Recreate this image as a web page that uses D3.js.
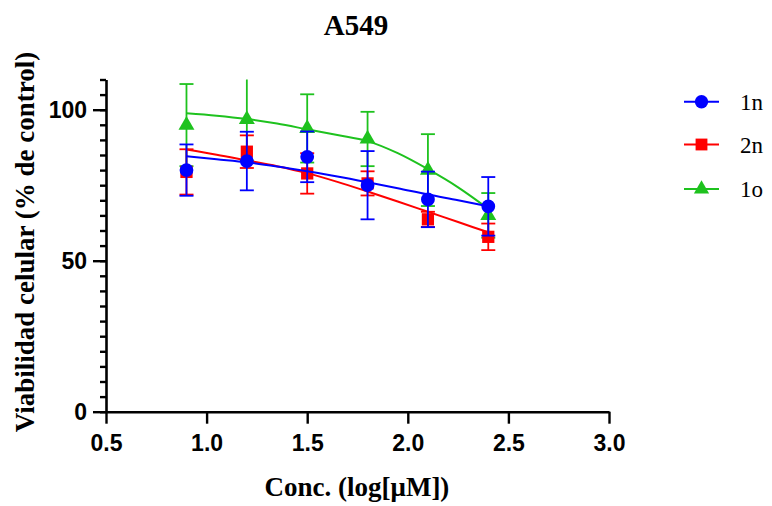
<!DOCTYPE html>
<html>
<head>
<meta charset="utf-8">
<script src="https://cdn.jsdelivr.net/npm/d3@7"></script>
<style>
  html, body { margin: 0; padding: 0; background: #fff; }
  svg { display: block; }
</style>
</head>
<body>
<svg id="chart" width="772" height="506"></svg>
<script>
// Concentrations (log µM) at which viability was measured
const concentrations = [0.9, 1.2, 1.5, 1.8, 2.1, 2.4];

// Mean viability (% of control) and standard deviation per compound
const viability1n = [80.0, 83.0, 84.4, 75.0, 70.3, 68.0];
const sd1n        = [8.5, 9.7, 8.4, 11.3, 9.2, 9.7];
const viability2n = [79.4, 86.1, 78.9, 75.6, 63.7, 57.9];
const sd2n        = [7.5, 5.4, 6.7, 4.0, 2.5, 4.4];
const viability1o = [94.9, 96.8, 93.8, 90.3, 80.0, 65.0];
const sd1o        = [13.6, 13.6, 11.3, 9.0, 11.9, 7.4];

// Fitted dose-response curves, sampled along the concentration range
const fitConc  = [0.9, 1.05, 1.2, 1.35, 1.5, 1.65, 1.8, 1.95, 2.1, 2.25, 2.4];
const fit1n    = [84.6, 83.6, 82.6, 81.2, 79.6, 77.9, 76.0, 74.0, 71.9, 70.0, 68.0];
const fit2n    = [86.8, 85.1, 83.2, 81.3, 79.0, 76.1, 72.9, 69.6, 66.2, 62.8, 59.4];
const fit1o    = [98.8, 98.0, 96.9, 95.4, 93.5, 91.6, 89.6, 85.6, 80.3, 74.3, 67.2];

// Axis ticks
const xTicks = [0.5, 1.0, 1.5, 2.0, 2.5, 3.0];
const yTicks = [0, 50, 100];
const yMinorTicks = [0, 5, 10, 15, 20, 25, 30, 35, 40, 45, 50, 55, 60, 65, 70, 75, 80, 85, 90, 95, 100, 105, 110];

const seriesNames = ["1n", "2n", "1o"];

const series = [
  { name: seriesNames[0], mean: viability1n, sd: sd1n, fit: fit1n, color: "#0000ff", shape: d3.symbolCircle },
  { name: seriesNames[1], mean: viability2n, sd: sd2n, fit: fit2n, color: "#ff0000", shape: d3.symbolSquare },
  { name: seriesNames[2], mean: viability1o, sd: sd1o, fit: fit1o, color: "#1ec21e", shape: d3.symbolTriangle }
];

const svg = d3.select("#chart");

const x = d3.scaleLinear().domain([0.5, 3.0]).range([106, 609]);
const y = d3.scaleLinear().domain([0, 110]).range([411.7, 79.5]);

const serif = "'Liberation Serif', 'Times New Roman', serif";
const sans = "'Liberation Sans', Arial, sans-serif";

// Title
svg.append("text")
  .attr("x", 356).attr("y", 35)
  .attr("text-anchor", "middle")
  .style("font-family", serif).style("font-weight", "bold").style("font-size", "29px")
  .text("A549");

// Y minor ticks
svg.append("g")
  .attr("transform", `translate(${x.range()[0]},0)`)
  .call(d3.axisLeft(y).tickValues(yMinorTicks).tickSize(6).tickSizeOuter(0).tickFormat(""))
  .call(g => g.select(".domain").remove())
  .call(g => g.selectAll("line").attr("stroke", "#000").attr("stroke-width", 2.4));

// Y axis
svg.append("g")
  .attr("transform", `translate(${x.range()[0]},0)`)
  .call(d3.axisLeft(y).tickValues(yTicks).tickSize(13).tickSizeOuter(0).tickPadding(6).tickFormat(d3.format("d")))
  .call(g => g.select(".domain").attr("stroke", "#000").attr("stroke-width", 2.6))
  .call(g => g.selectAll("line").attr("stroke", "#000").attr("stroke-width", 2.4))
  .call(g => g.selectAll("text")
    .style("font-family", sans).style("font-weight", "bold").style("font-size", "23px").attr("fill", "#000"));

// X axis
svg.append("g")
  .attr("transform", `translate(0,${y(0)})`)
  .call(d3.axisBottom(x).tickValues(xTicks).tickSize(12).tickSizeOuter(0).tickPadding(11).tickFormat(d3.format(".1f")))
  .call(g => g.select(".domain").attr("stroke", "#000").attr("stroke-width", 2.6))
  .call(g => g.selectAll("line").attr("stroke", "#000").attr("stroke-width", 2.4))
  .call(g => g.selectAll("text")
    .style("font-family", sans).style("font-weight", "bold").style("font-size", "23px").attr("fill", "#000"));

// Axis titles
svg.append("text")
  .attr("x", 357).attr("y", 496)
  .attr("text-anchor", "middle")
  .style("font-family", serif).style("font-weight", "bold").style("font-size", "27px")
  .text("Conc. (log[μM])");

svg.append("text")
  .attr("transform", `translate(34,${(47 + 437) / 2}) rotate(-90)`)
  .attr("text-anchor", "middle")
  .style("font-family", serif).style("font-weight", "bold").style("font-size", "27px")
  .text("Viabilidad celular (% de control)");

const line = d3.line()
  .x(d => x(d[0]))
  .y(d => y(d[1]))
  .curve(d3.curveMonotoneX);

const plot = svg.append("g");
const capHalf = 7;

// Draw last series first so 1n sits on top
series.slice().reverse().forEach(s => {
  const g = plot.append("g");
  const pts = concentrations.map((c, i) => ({ c, m: s.mean[i], sd: s.sd[i] }));

  // Error bars
  const eb = g.append("g").attr("stroke", s.color).attr("stroke-width", 1.8).attr("fill", "none");
  eb.selectAll("line.v").data(pts).join("line")
    .attr("x1", d => x(d.c)).attr("x2", d => x(d.c))
    .attr("y1", d => y(Math.min(110, d.m + d.sd))).attr("y2", d => y(d.m - d.sd));
  eb.selectAll("line.top").data(pts.filter(d => d.m + d.sd <= 110)).join("line")
    .attr("x1", d => x(d.c) - capHalf).attr("x2", d => x(d.c) + capHalf)
    .attr("y1", d => y(d.m + d.sd)).attr("y2", d => y(d.m + d.sd));
  eb.selectAll("line.bot").data(pts).join("line")
    .attr("x1", d => x(d.c) - capHalf).attr("x2", d => x(d.c) + capHalf)
    .attr("y1", d => y(d.m - d.sd)).attr("y2", d => y(d.m - d.sd));

  // Fitted curve
  g.append("path")
    .datum(fitConc.map((c, i) => [c, s.fit[i]]))
    .attr("d", line)
    .attr("fill", "none").attr("stroke", s.color).attr("stroke-width", 2);

  // Markers
  g.selectAll("path.mk").data(pts).join("path")
    .attr("transform", d => `translate(${x(d.c)},${y(d.m)})`)
    .attr("d", d3.symbol().type(s.shape).size(s.shape === d3.symbolTriangle ? 110 : 150))
    .attr("fill", s.color);
});

// Legend
const legend = svg.append("g");
const legendY = [101.7, 144.5, 189];
series.forEach((s, i) => {
  const g = legend.append("g").attr("transform", `translate(0,${legendY[i]})`);
  g.append("line").attr("x1", 684).attr("x2", 719).attr("y1", 0).attr("y2", 0)
    .attr("stroke", s.color).attr("stroke-width", 2);
  g.append("path").attr("transform", "translate(701.5,0)")
    .attr("d", d3.symbol().type(s.shape).size(s.shape === d3.symbolTriangle ? 100 : 140))
    .attr("fill", s.color);
  g.append("text").attr("x", 740).attr("y", 0).attr("dy", "0.35em")
    .style("font-family", serif).style("font-size", "23px")
    .text(s.name);
});
</script>
</body>
</html>
